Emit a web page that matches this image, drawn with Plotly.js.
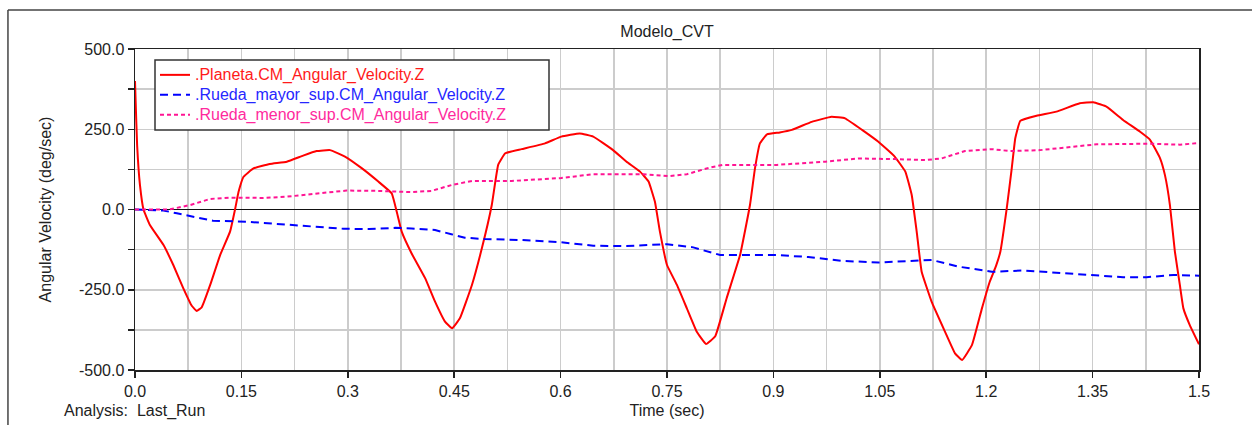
<!DOCTYPE html>
<html>
<head>
<meta charset="utf-8">
<script src="https://cdn.plot.ly/plotly-3.0.1.min.js"></script>
<style>
  html, body { margin: 0; padding: 0; background: #ffffff; }
  #plot { width: 1252px; height: 425px; }
</style>
</head>
<body>
<div id="plot"></div>
<script>
// Time samples (sec) and angular velocities (deg/sec) for each body
const planetaTime = [0, 0.001, 0.003, 0.007, 0.012, 0.021, 0.040, 0.054, 0.068, 0.080, 0.087, 0.094, 0.106, 0.120, 0.134, 0.141, 0.146, 0.153, 0.167, 0.190, 0.214, 0.237, 0.256, 0.275, 0.296, 0.320, 0.343, 0.362, 0.369, 0.376, 0.390, 0.409, 0.423, 0.437, 0.447, 0.458, 0.475, 0.489, 0.503, 0.512, 0.522, 0.545, 0.578, 0.601, 0.627, 0.646, 0.674, 0.693, 0.712, 0.724, 0.733, 0.740, 0.750, 0.764, 0.778, 0.792, 0.805, 0.818, 0.834, 0.853, 0.867, 0.874, 0.881, 0.891, 0.909, 0.926, 0.954, 0.982, 1.001, 1.025, 1.048, 1.071, 1.086, 1.095, 1.102, 1.109, 1.123, 1.142, 1.156, 1.166, 1.180, 1.194, 1.205, 1.214, 1.220, 1.229, 1.236, 1.241, 1.248, 1.271, 1.299, 1.332, 1.351, 1.370, 1.393, 1.417, 1.431, 1.445, 1.452, 1.459, 1.466, 1.473, 1.478, 1.487, 1.500];
const planetaVel = [400, 330, 200, 76, 0, -48, -110, -173, -245, -300, -316, -305, -235, -142, -69, 0, 55, 102, 128, 142, 149, 168, 182, 185, 165, 128, 87, 50, -7, -69, -137, -214, -287, -349, -370, -339, -235, -121, 14, 139, 175, 188, 206, 227, 237, 227, 185, 149, 118, 87, 24, -69, -173, -235, -308, -381, -419, -395, -277, -142, 14, 128, 206, 234, 240, 248, 273, 289, 284, 248, 211, 165, 118, 45, -69, -194, -287, -381, -448, -469, -422, -308, -225, -175, -131, 4, 128, 222, 276, 292, 305, 331, 334, 320, 279, 242, 217, 160, 107, 14, -131, -235, -308, -360, -420];

const mayorTime = [0, 0.040, 0.059, 0.087, 0.110, 0.157, 0.190, 0.237, 0.294, 0.330, 0.367, 0.390, 0.423, 0.446, 0.465, 0.493, 0.545, 0.601, 0.646, 0.693, 0.750, 0.787, 0.825, 0.862, 0.905, 0.949, 0.996, 1.048, 1.123, 1.161, 1.208, 1.252, 1.299, 1.346, 1.393, 1.426, 1.464, 1.500];
const mayorVel = [0, -3, -12, -24, -35, -38, -43, -50, -60, -61, -57, -59, -64, -77, -88, -92, -95, -102, -113, -114, -108, -118, -142, -142, -142, -148, -160, -165, -157, -178, -194, -190, -196, -204, -211, -211, -204, -206];

const menorTime = [0, 0.048, 0.078, 0.106, 0.134, 0.181, 0.214, 0.256, 0.298, 0.343, 0.390, 0.418, 0.446, 0.475, 0.531, 0.601, 0.646, 0.717, 0.754, 0.778, 0.811, 0.829, 0.905, 0.973, 1.020, 1.071, 1.114, 1.137, 1.170, 1.208, 1.234, 1.276, 1.313, 1.356, 1.431, 1.473, 1.500];
const menorVel = [0, 0, 14, 33, 37, 36, 40, 50, 59, 58, 54, 58, 76, 89, 89, 98, 110, 110, 104, 110, 131, 139, 139, 149, 159, 157, 154, 159, 182, 188, 182, 185, 193, 203, 205, 202, 207];

// Axis tick labels
const xTickVals = [0, 0.15, 0.3, 0.45, 0.6, 0.75, 0.9, 1.05, 1.2, 1.35, 1.5];
const xTickText = ['0.0', '0.15', '0.3', '0.45', '0.6', '0.75', '0.9', '1.05', '1.2', '1.35', '1.5'];
const yTickVals = [500, 250, 0, -250, -500];
const yTickText = ['500.0', '250.0', '0.0', '-250.0', '-500.0'];

const FONT = '"Liberation Sans", Arial, sans-serif';

// legend labels keep a compact row height but a larger glyph size
const label = (txt, color) => '<span style="color:' + color + ';font-size:16px">' + txt + '</span>';

const traces = [
  {
    x: planetaTime, y: planetaVel, type: 'scatter', mode: 'lines',
    name: label('.Planeta.CM_Angular_Velocity.Z', '#ff1a1a'),
    line: { color: '#ff0000', width: 2, shape: 'spline', smoothing: 0.3 }
  },
  {
    x: mayorTime, y: mayorVel, type: 'scatter', mode: 'lines',
    name: label('.Rueda_mayor_sup.CM_Angular_Velocity.Z', '#2626ff'),
    line: { color: '#0000ff', width: 2, dash: '8px,5px' }
  },
  {
    x: menorTime, y: menorVel, type: 'scatter', mode: 'lines',
    name: label('.Rueda_menor_sup.CM_Angular_Velocity.Z', '#ff2a9d'),
    line: { color: '#ff1493', width: 2, dash: '4px,3px' }
  }
];

const layout = {
  width: 1252, height: 425,
  margin: { l: 135, r: 53, t: 49, b: 55 },
  paper_bgcolor: '#ffffff', plot_bgcolor: '#ffffff',
  font: { family: FONT, size: 16, color: '#222222' },
  showlegend: true,
  title: {
    text: 'Modelo_CVT', font: { family: FONT, size: 16, color: '#222222' },
    xref: 'paper', x: 0.5, xanchor: 'center',
    yref: 'container', y: 0.925, yanchor: 'middle'
  },
  xaxis: {
    range: [0, 1.5], autorange: false,
    tickmode: 'array', tickvals: xTickVals, ticktext: xTickText,
    ticks: 'outside', ticklen: 6, tickcolor: '#222', tickwidth: 1.5,
    showgrid: true, gridcolor: '#cccccc', gridwidth: 1.5,
    minor: { dtick: 0.075, tick0: 0, showgrid: true, gridcolor: '#cccccc', gridwidth: 1.5, ticks: '' },
    showline: true, linecolor: '#222222', linewidth: 1.5, mirror: true,
    zeroline: false,
    tickfont: { family: FONT, size: 16, color: '#222222' },
    title: { text: 'Time (sec)', font: { family: FONT, size: 16, color: '#222222' }, standoff: 6 }
  },
  yaxis: {
    range: [-500, 500], autorange: false,
    tickmode: 'array', tickvals: yTickVals, ticktext: yTickText,
    ticks: 'outside', ticklen: 6, tickcolor: '#222', tickwidth: 1.5,
    showgrid: true, gridcolor: '#cccccc', gridwidth: 1.5,
    minor: { dtick: 125, tick0: 0, showgrid: true, gridcolor: '#cccccc', gridwidth: 1.5, ticks: 'outside', ticklen: 6, tickcolor: '#222', tickwidth: 1.5 },
    showline: true, linecolor: '#222222', linewidth: 1.5, mirror: true,
    zeroline: true, zerolinecolor: '#111111', zerolinewidth: 1.5,
    tickfont: { family: FONT, size: 16, color: '#222222' },
    title: { text: 'Angular Velocity (deg/sec)', font: { family: FONT, size: 16, color: '#222222' }, standoff: 23 }
  },
  legend: {
    x: 0.0188, y: 0.966, xanchor: 'left', yanchor: 'top',
    bgcolor: 'rgba(0,0,0,0)', borderwidth: 0,
    font: { family: FONT, size: 13 },
    tracegroupgap: 0, itemwidth: 30
  },
  annotations: [
    {
      text: 'Analysis:  Last_Run', xref: 'paper', yref: 'paper',
      x: -0.0686, y: -0.128, xanchor: 'left', yanchor: 'middle',
      showarrow: false, font: { family: FONT, size: 16, color: '#222222' }
    }
  ],
  shapes: [
    // legend frame, wider than the auto-sized legend
    { type: 'rect', xref: 'paper', yref: 'paper', layer: 'above', x0: 0.0188, x1: 0.3891, y0: 0.7477, y1: 0.9657, fillcolor: '#ffffff', line: { color: '#333333', width: 1.5 } },
    // outer frame around the whole chart
    { type: 'line', xref: 'paper', yref: 'paper', x0: -0.1194, x1: 1.06, y0: 1.1215, y1: 1.1215, line: { color: '#444444', width: 1.5 } },
    { type: 'line', xref: 'paper', yref: 'paper', x0: -0.1194, x1: -0.1194, y0: 1.1215, y1: -0.2, line: { color: '#444444', width: 1.5 } }
  ]
};

Plotly.newPlot('plot', traces, layout, { staticPlot: true, displayModeBar: false });
</script>
</body>
</html>
